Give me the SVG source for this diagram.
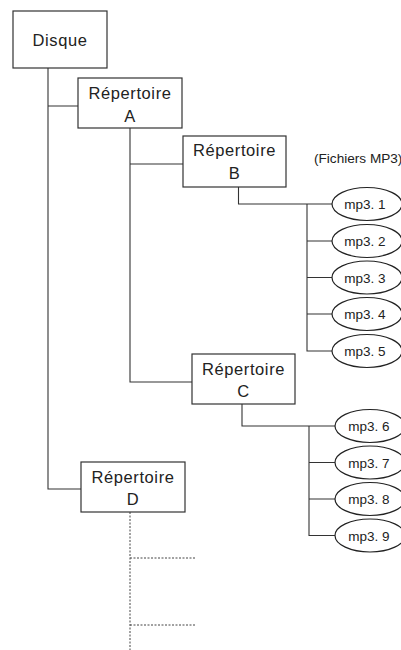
<svg xmlns="http://www.w3.org/2000/svg" width="401" height="650" viewBox="0 0 401 650">
<style>
.box{fill:#fff;stroke:#333;stroke-width:1.2}
.ell{fill:#fff;stroke:#222;stroke-width:1.2}
.ln{fill:none;stroke:#333;stroke-width:1.1}
.dot{fill:none;stroke:#444;stroke-width:1;stroke-dasharray:2 1.5}
.t{font-family:"Liberation Sans",Arial,sans-serif;font-size:16.5px;letter-spacing:0.6px;fill:#222;text-anchor:middle}
.s{font-family:"Liberation Sans",Arial,sans-serif;font-size:13.5px;fill:#222;text-anchor:middle}
.f{font-family:"Liberation Sans",Arial,sans-serif;font-size:13.6px;fill:#222}
</style>
<rect width="401" height="650" fill="#fff"/>
<g id="connectors">
<path class="ln" d="M48 68V489H81M48 106H78"/>
<path class="ln" d="M130 128V382H192M130 164H183"/>
<path class="ln" d="M238.5 187V204H332M307 204V351H332M307 241H332M307 277.5H332M307 314H332"/>
<path class="ln" d="M242 404V426H335M309 426V535.5H335M309 462.5H335M309 499H335"/>
<path class="dot" d="M130 512V650M130 558H195M130 625H195"/>
</g>
<g id="disque"><rect class="box" x="13" y="11" width="94" height="57"/><text class="t" x="60" y="46">Disque</text></g>
<g id="repA"><rect class="box" x="78" y="78" width="104" height="50"/><text class="t" x="130" y="98.5">Répertoire</text><text class="t" x="130" y="121.5">A</text></g>
<g id="repB"><rect class="box" x="183" y="136" width="103" height="51"/><text class="t" x="234.5" y="156">Répertoire</text><text class="t" x="234.5" y="178.5">B</text></g>
<g id="repC"><rect class="box" x="192" y="354" width="103" height="50"/><text class="t" x="243.5" y="374.5">Répertoire</text><text class="t" x="243.5" y="397">C</text></g>
<g id="repD"><rect class="box" x="81" y="462" width="104" height="50"/><text class="t" x="133" y="482.5">Répertoire</text><text class="t" x="133" y="505">D</text></g>
<g id="label"><text class="f" x="314" y="163">(Fichiers MP3)</text></g>
<g id="mp1"><ellipse class="ell" cx="367" cy="204" rx="35" ry="16.5"/><text class="s" x="365" y="209">mp3. 1</text></g>
<g id="mp2"><ellipse class="ell" cx="367" cy="241" rx="35" ry="16.5"/><text class="s" x="365" y="246">mp3. 2</text></g>
<g id="mp3"><ellipse class="ell" cx="367" cy="277.5" rx="35" ry="16.5"/><text class="s" x="365" y="282.5">mp3. 3</text></g>
<g id="mp4"><ellipse class="ell" cx="367" cy="314" rx="35" ry="16.5"/><text class="s" x="365" y="319">mp3. 4</text></g>
<g id="mp5"><ellipse class="ell" cx="367" cy="351" rx="35" ry="16.5"/><text class="s" x="365" y="356">mp3. 5</text></g>
<g id="mp6"><ellipse class="ell" cx="370" cy="426" rx="35" ry="16.5"/><text class="s" x="369" y="431">mp3. 6</text></g>
<g id="mp7"><ellipse class="ell" cx="370" cy="462.5" rx="35" ry="16.5"/><text class="s" x="369" y="467.5">mp3. 7</text></g>
<g id="mp8"><ellipse class="ell" cx="370" cy="499" rx="35" ry="16.5"/><text class="s" x="369" y="504">mp3. 8</text></g>
<g id="mp9"><ellipse class="ell" cx="370" cy="535.5" rx="35" ry="16.5"/><text class="s" x="369" y="540.5">mp3. 9</text></g>
</svg>
